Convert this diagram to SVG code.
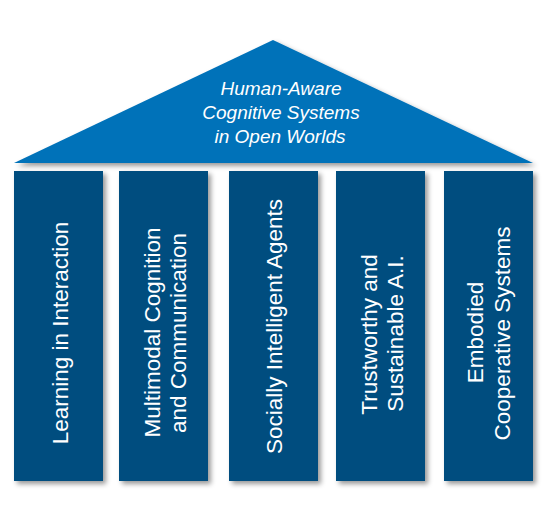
<svg xmlns="http://www.w3.org/2000/svg" width="549" height="522" viewBox="0 0 549 522">
  <defs>
    <filter id="shadow" x="-10%" y="-10%" width="130%" height="130%">
      <feDropShadow dx="3" dy="3" stdDeviation="2.5" flood-color="#000" flood-opacity="0.4"/>
    </filter>
  </defs>
  <style>
    .roof { fill: #0072b9; filter: url(#shadow); }
    .pillar { fill: #004e7f; filter: url(#shadow); }
    .ptext { font-family: "Liberation Sans", Arial, Helvetica, sans-serif; font-size: 22.5px; fill: #ffffff; text-anchor: middle; }
    .rtext { font-family: "Liberation Sans", Arial, Helvetica, sans-serif; font-size: 19px; font-style: italic; fill: #ffffff; text-anchor: middle; }
  </style>
  <rect width="549" height="522" fill="#ffffff"/>
  <g id="roof">
    <polygon class="roof" points="14,163 273,40 533,163"/>
    <text class="rtext" x="281" y="95">Human-Aware</text>
    <text class="rtext" x="281" y="119.3">Cognitive Systems</text>
    <text class="rtext" x="280" y="143.3">in Open Worlds</text>
  </g>
  <g id="pillar1">
    <rect class="pillar" x="14" y="171" width="89" height="310"/>
    <text class="ptext" transform="translate(68,333) rotate(-90)">Learning in Interaction</text>
  </g>
  <g id="pillar2">
    <rect class="pillar" x="119" y="171" width="89" height="310"/>
    <text class="ptext" transform="translate(160,332.5) rotate(-90)">Multimodal Cognition</text>
    <text class="ptext" transform="translate(186,333) rotate(-90)">and Communication</text>
  </g>
  <g id="pillar3">
    <rect class="pillar" x="229" y="171" width="89" height="310"/>
    <text class="ptext" transform="translate(281.5,326.5) rotate(-90)">Socially Intelligent Agents</text>
  </g>
  <g id="pillar4">
    <rect class="pillar" x="336" y="171" width="89" height="310"/>
    <text class="ptext" transform="translate(377,334.5) rotate(-90)">Trustworthy and</text>
    <text class="ptext" transform="translate(403,333.5) rotate(-90)">Sustainable A.I.</text>
  </g>
  <g id="pillar5">
    <rect class="pillar" x="444" y="171" width="89" height="310"/>
    <text class="ptext" transform="translate(483.3,332.5) rotate(-90)">Embodied</text>
    <text class="ptext" transform="translate(510,333.5) rotate(-90)">Cooperative Systems</text>
  </g>
  <g id="connectors"/>
</svg>
